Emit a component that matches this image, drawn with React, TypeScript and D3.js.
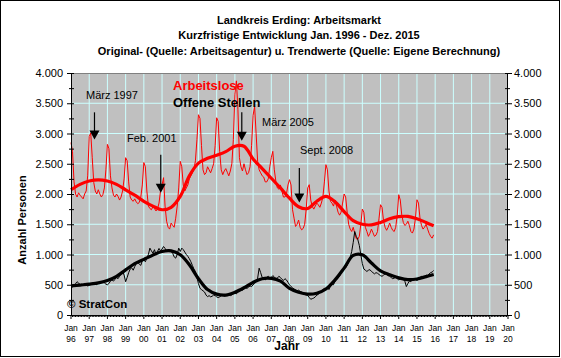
import React from 'react'
import * as d3 from 'd3'

// Arbeitslose, monatlich Jan 1996 - Dez 2015 (je Zeile ein Jahr)
const arbeitslose = [
  2850, 2700, 2200, 2000, 1950, 2020, 1980, 1950, 1920, 2000, 2050, 2300,
  2950, 3010, 2600, 2190, 2050, 2000, 2070, 2000, 1950, 1990, 2100, 2400,
  2820, 2750, 2300, 2100, 1980, 1950, 2000, 1960, 1900, 1950, 2050, 2250,
  2600, 2550, 2200, 1950, 1900, 1880, 1920, 1870, 1840, 1860, 1950, 2150,
  2520, 2450, 2050, 1800, 1760, 1740, 1790, 1760, 1720, 1750, 1850, 2050,
  2150, 2270, 1800, 1550, 1450, 1420, 1520, 1480, 1450, 1600, 1800, 2100,
  2540, 2450, 2150, 2050, 2100, 2150, 2250, 2300, 2350, 2400, 2550, 2900,
  3310, 3250, 2800, 2400, 2320, 2350, 2450, 2400, 2350, 2420, 2500, 2800,
  3260, 3200, 2700, 2400, 2320, 2380, 2420, 2360, 2300, 2380, 2500, 2900,
  3650, 3870, 3400, 2600, 2450, 2380, 2500, 2400, 2320, 2350, 2450, 2800,
  3300, 3450, 3000, 2540, 2400, 2350, 2300, 2280, 2200, 2200, 2250, 2450,
  2600, 2705, 2400, 2210, 2100, 2080, 2150, 2050, 1950, 1950, 2000, 2150,
  2237, 2150, 1740, 1600, 1463, 1500, 1570, 1450, 1408, 1430, 1500, 1750,
  2100, 2154, 1900, 1795, 1750, 1800, 1850, 1820, 1780, 1850, 1950, 2200,
  2485, 2400, 2050, 1877, 1850, 1800, 1900, 1800, 1700, 1650, 1700, 1850,
  2000, 1950, 1700, 1500, 1420, 1380, 1450, 1350, 1260, 1250, 1300, 1500,
  1750, 1700, 1450, 1380, 1300, 1350, 1420, 1360, 1300, 1320, 1380, 1600,
  1823, 1780, 1550, 1450, 1400, 1450, 1520, 1450, 1400, 1380, 1450, 1650,
  1988, 1900, 1650, 1530, 1480, 1500, 1550, 1480, 1380, 1354, 1420, 1600,
  1905, 1850, 1600, 1480, 1420, 1450, 1500, 1420, 1350, 1300, 1270, 1325,
]

// Offene Stellen, monatlich Jan 1996 - Dez 2015
const offeneStellen = [
  470, 460, 490, 520, 550, 530, 500, 510, 490, 520, 500, 480,
  490, 510, 520, 540, 510, 500, 530, 520, 540, 560, 530, 510,
  500, 520, 560, 580, 560, 590, 620, 600, 640, 680, 720, 660,
  550, 620, 700, 760, 780, 740, 800, 850, 870, 840, 820, 900,
  911, 880, 940, 1000, 1105, 1060, 1020, 1080, 1000, 1050, 1100, 1060,
  1090, 1132, 1100, 1060, 1050, 1080, 1050, 1020, 960, 940, 1000, 1105,
  1050, 1105, 1080, 1040, 1000, 970, 930, 880, 820, 760, 717, 620,
  520, 442, 420, 400, 380, 330, 303, 320, 300, 310, 330, 320,
  300, 287, 300, 320, 330, 310, 320, 340, 330, 320, 330, 350,
  360, 350, 380, 400, 420, 410, 430, 450, 440, 460, 480, 470,
  500, 520, 560, 608, 774, 700, 620, 600, 580, 620, 640, 600,
  620, 650, 630, 600, 610, 640, 620, 590, 570, 600, 580, 540,
  500, 470, 450, 430, 420, 400, 410, 390, 380, 360, 340, 330,
  320, 290, 260, 270, 280, 300, 330, 340, 380, 400, 420, 440,
  430, 460, 420, 480, 520, 500, 560, 580, 610, 640, 700, 740,
  760, 780, 820, 880, 950, 1050, 1200, 1380, 1300, 1250, 1150, 1000,
  850, 760, 740, 720, 740, 750, 720, 700, 680, 700, 690, 670,
  650, 640, 660, 680, 670, 650, 640, 620, 600, 610, 620, 600,
  580, 600, 620, 590, 560, 470, 520, 560, 550, 580, 600, 590,
  570, 590, 620, 640, 610, 630, 660, 650, 680, 700, 710, 735,
]

// Trendwerte (halbjährlich gelesen)
const trendYears = [
  1996, 1996.5, 1997, 1997.5, 1998, 1998.5, 1999, 1999.5, 2000, 2000.5,
  2001, 2001.5, 2002, 2002.5, 2003, 2003.5, 2004, 2004.5, 2005, 2005.5,
  2006, 2006.5, 2007, 2007.5, 2008, 2008.5, 2009, 2009.5, 2010, 2010.5,
  2011, 2011.5, 2012, 2012.5, 2013, 2013.5, 2014, 2014.5, 2015, 2015.5, 2015.92,
]
const trendArbeitslose = [
  2070, 2160, 2215, 2235, 2215, 2160, 2070, 1980, 1880, 1800,
  1740, 1780, 1960, 2300, 2510, 2590, 2640, 2700, 2790, 2790,
  2580, 2420, 2260, 2100, 1930, 1790, 1760, 1880, 1960, 1870,
  1710, 1560, 1500, 1490, 1530, 1590, 1625, 1630, 1590, 1530, 1475,
]
const trendOffene = [
  480, 495, 510, 530, 570, 640, 745, 850, 920, 990,
  1050, 1060, 995, 830, 600, 420, 345, 330, 375, 450,
  540, 600, 605, 560, 440, 375, 345, 360, 430, 580,
  775, 985, 995, 860, 730, 665, 615, 585, 595, 635, 670,
]

const yTicks = [0, 500, 1000, 1500, 2000, 2500, 3000, 3500, 4000]
const yearLabels = ['96', '97', '98', '99', '00', '01', '02', '03', '04', '05', '06', '07',
  '08', '09', '10', '11', '12', '13', '14', '15', '16', '17', '18', '19', '20']

const notes = [
  { label: 'März 1997', year: 1997.29, top: 3350, tip: 2900, tx: 86, ty: 99 },
  { label: 'Feb. 2001', year: 2000.93, top: 2650, tip: 2020, tx: 127, ty: 142 },
  { label: 'März 2005', year: 2005.38, top: 3350, tip: 2880, tx: 262, ty: 126 },
  { label: 'Sept. 2008', year: 2008.54, top: 2430, tip: 1860, tx: 300, ty: 154 },
]

const font = '"Liberation Sans", Arial, sans-serif'

export default function App () {
  const left = 71
  const right = 508
  const top = 73
  const bottom = 315

  const x = d3.scaleLinear().domain([1996, 2020]).range([left, right])
  const y = d3.scaleLinear().domain([0, 4000]).range([bottom, top])

  const monthly = (vals: number[]) => vals.map((v, i) => [1996 + i / 12, v] as [number, number])
  const rawLine = d3.line<[number, number]>().x(d => x(d[0])).y(d => y(d[1]))
  const trendLine = d3.line<[number, number]>().x(d => x(d[0])).y(d => y(d[1])).curve(d3.curveCatmullRom)

  const years = d3.range(1996, 2021)
  const months = d3.range(0, 24 * 12 + 1).map(m => 1996 + m / 12)
  const minorY = d3.range(0, 4001, 250)

  return (
    <svg width={561} height={358} style={{ position: 'absolute', left: 0, top: 0, background: '#fff' }}
      fontFamily={font}>
      <rect x={0.5} y={0.5} width={559} height={356} fill='#fff' stroke='#000' />

      <text x={299} y={24} textAnchor='middle' fontSize={11} fontWeight='bold'>Landkreis Erding: Arbeitsmarkt</text>
      <text x={299} y={39} textAnchor='middle' fontSize={11} fontWeight='bold'>Kurzfristige Entwicklung Jan. 1996 - Dez. 2015</text>
      <text x={299} y={55} textAnchor='middle' fontSize={11} fontWeight='bold'>Original- (Quelle: Arbeitsagentur) u. Trendwerte (Quelle: Eigene Berechnung)</text>

      <rect x={left} y={top} width={right - left} height={bottom - top} fill='#c0c0c0' />
      {yTicks.slice(1, -1).map(t => (
        <line key={'gy' + t} x1={left} x2={right} y1={y(t)} y2={y(t)} stroke='#ccffff' />
      ))}
      {years.slice(1, -1).map(yr => (
        <line key={'gx' + yr} x1={x(yr)} x2={x(yr)} y1={top} y2={bottom} stroke='#ccffff' />
      ))}
      <line x1={left} x2={right} y1={top + 0.5} y2={top + 0.5} stroke='#808080' />

      <path d={rawLine(monthly(arbeitslose)) ?? ''} fill='none' stroke='#ff0000' strokeWidth={1} />
      <path d={rawLine(monthly(offeneStellen)) ?? ''} fill='none' stroke='#000' strokeWidth={1} />
      <path d={trendLine(trendYears.map((t, i) => [t, trendArbeitslose[i]] as [number, number])) ?? ''}
        fill='none' stroke='#ff0000' strokeWidth={3.2} />
      <path d={trendLine(trendYears.map((t, i) => [t, trendOffene[i]] as [number, number])) ?? ''}
        fill='none' stroke='#000' strokeWidth={3.2} />

      {/* Achsen */}
      <line x1={left + 0.5} x2={left + 0.5} y1={top} y2={bottom} stroke='#000' />
      <line x1={right - 0.5} x2={right - 0.5} y1={top} y2={bottom} stroke='#000' />
      <line x1={left} x2={right} y1={bottom + 0.5} y2={bottom + 0.5} stroke='#000' />
      {minorY.map(t => (
        <g key={'ty' + t}>
          <line x1={left - (t % 500 ? 2 : 4)} x2={left + 3} y1={y(t) + 0.5} y2={y(t) + 0.5} stroke='#000' />
          <line x1={right - 3} x2={right + (t % 500 ? 2 : 4)} y1={y(t) + 0.5} y2={y(t) + 0.5} stroke='#000' />
        </g>
      ))}
      {yTicks.map(t => (
        <g key={'ly' + t} fontSize={11}>
          <text x={63} y={y(t) + 4} textAnchor='end'>{d3.format(',')(t).replace(',', '.')}</text>
          <text x={514} y={y(t) + 4} textAnchor='start'>{d3.format(',')(t).replace(',', '.')}</text>
        </g>
      ))}
      {months.map((m, i) => (
        <line key={'mx' + i} x1={x(m)} x2={x(m)} y1={bottom} y2={bottom + (i % 12 ? 2 : 4)} stroke='#000' />
      ))}
      {years.map((yr, i) => (
        <g key={'lx' + yr} fontSize={8.5} textAnchor='middle'>
          <text x={x(yr)} y={331}>Jan</text>
          <text x={x(yr)} y={342}>{yearLabels[i]}</text>
        </g>
      ))}
      <text x={287} y={350} textAnchor='middle' fontSize={12} fontWeight='bold'>Jahr</text>
      <text transform='translate(26,220) rotate(-90)' textAnchor='middle' fontSize={11} fontWeight='bold'>Anzahl Personen</text>

      {/* Legende */}
      <text x={173} y={90} fontSize={13} fontWeight='bold' fill='#ff0000'>Arbeitslose</text>
      <text x={173} y={107} fontSize={13} fontWeight='bold' fill='#000'>Offene Stellen</text>

      {notes.map(n => {
        const ax = x(n.year)
        const yt = y(n.tip)
        return (
          <g key={n.label}>
            <text x={n.tx} y={n.ty} fontSize={11}>{n.label}</text>
            <line x1={ax} x2={ax} y1={y(n.top)} y2={yt - 4} stroke='#000' strokeWidth={1.2} />
            <path d={`M${ax - 5},${yt - 9}L${ax + 5},${yt - 9}L${ax},${yt}Z`} fill='#000' />
          </g>
        )
      })}

      <text x={67} y={308} fontSize={11.5} fontWeight='bold'>© StratCon</text>
    </svg>
  )
}
